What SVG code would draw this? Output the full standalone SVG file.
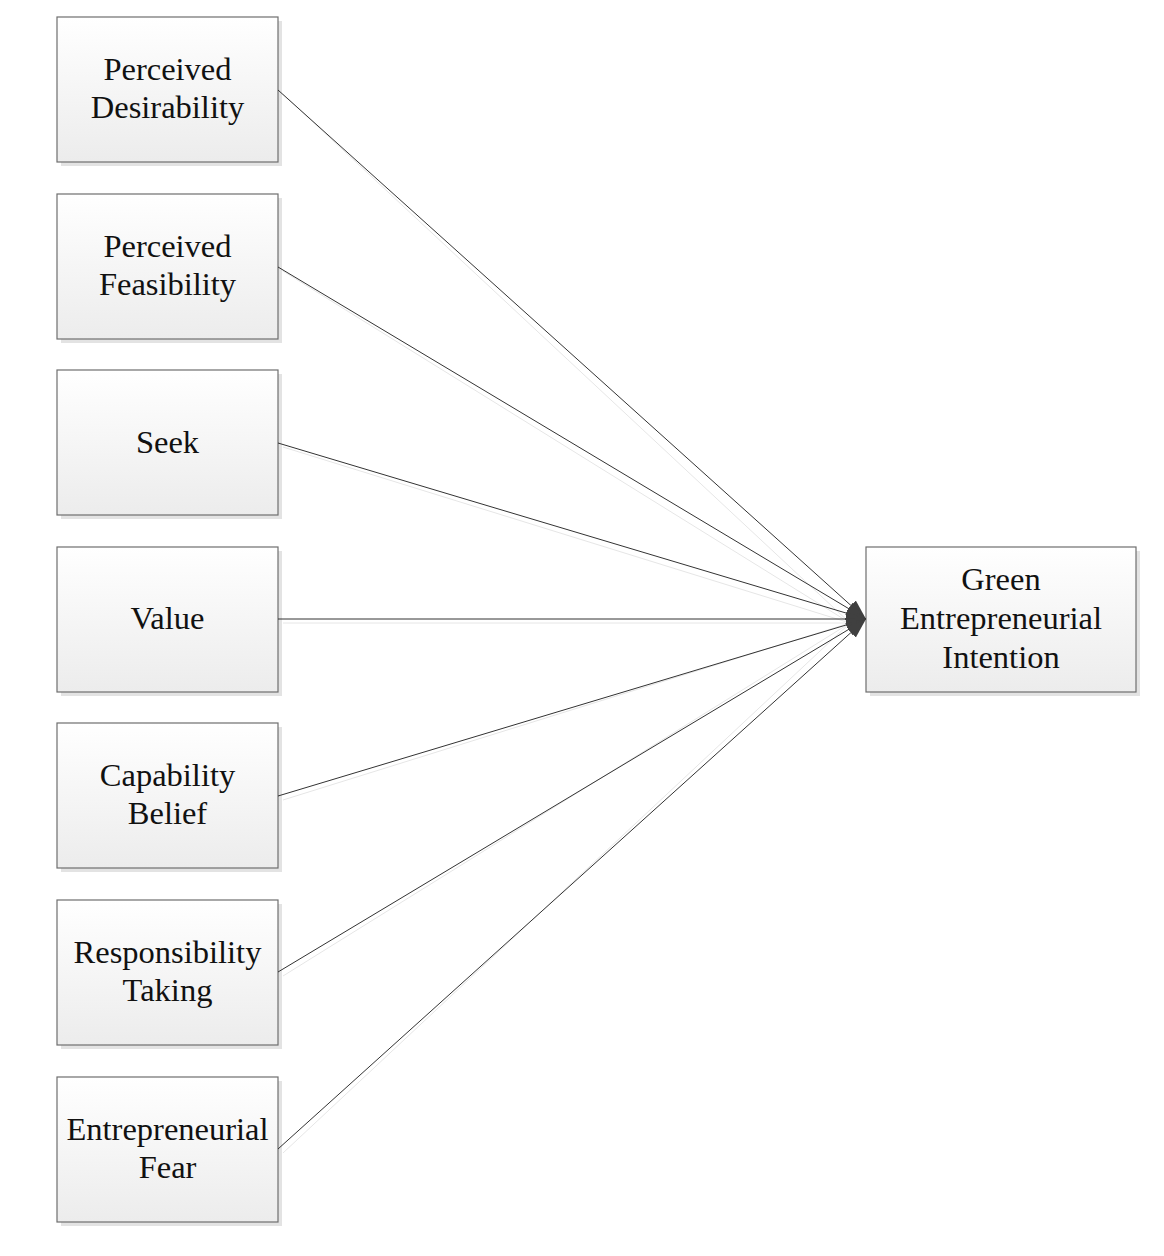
<svg xmlns="http://www.w3.org/2000/svg" width="1164" height="1256" viewBox="0 0 1164 1256">
<defs>
<linearGradient id="g" x1="0" y1="0" x2="0" y2="1">
<stop offset="0" stop-color="#ffffff"/>
<stop offset="1" stop-color="#ececec"/>
</linearGradient>
<marker id="arr" viewBox="0 0 20 16" refX="20" refY="8" markerWidth="20" markerHeight="16" markerUnits="userSpaceOnUse" orient="auto">
<path d="M0,1 L20,8 L0,15 Z" fill="#404040"/>
</marker>
</defs>
<style>
.box{fill:url(#g);stroke:#6e6e6e;stroke-width:1.2}
.sh{fill:#e3e3e3}
.t{font-size:32.5px;fill:#111;text-anchor:middle}
.c{stroke:#333;stroke-width:1;fill:none}
.cs{stroke:#e6e6e6;stroke-width:1;fill:none}
</style>
<g font-family="'Liberation Serif', 'Times New Roman', serif">
<g id="n1"><rect class="sh" x="61" y="21" width="221" height="145"/><rect class="box" x="57" y="17" width="221" height="145"/><text class="t" x="167.5" y="80">Perceived</text><text class="t" x="167.5" y="118">Desirability</text></g>
<g id="n2"><rect class="sh" x="61" y="198" width="221" height="145"/><rect class="box" x="57" y="194" width="221" height="145"/><text class="t" x="167.5" y="257">Perceived</text><text class="t" x="167.5" y="295">Feasibility</text></g>
<g id="n3"><rect class="sh" x="61" y="374" width="221" height="145"/><rect class="box" x="57" y="370" width="221" height="145"/><text class="t" x="167.5" y="453">Seek</text></g>
<g id="n4"><rect class="sh" x="61" y="551" width="221" height="145"/><rect class="box" x="57" y="547" width="221" height="145"/><text class="t" x="167.5" y="629">Value</text></g>
<g id="n5"><rect class="sh" x="61" y="727" width="221" height="145"/><rect class="box" x="57" y="723" width="221" height="145"/><text class="t" x="167.5" y="786">Capability</text><text class="t" x="167.5" y="824">Belief</text></g>
<g id="n6"><rect class="sh" x="61" y="904" width="221" height="145"/><rect class="box" x="57" y="900" width="221" height="145"/><text class="t" x="167.5" y="963">Responsibility</text><text class="t" x="167.5" y="1001">Taking</text></g>
<g id="n7"><rect class="sh" x="61" y="1081" width="221" height="145"/><rect class="box" x="57" y="1077" width="221" height="145"/><text class="t" x="167.5" y="1140">Entrepreneurial</text><text class="t" x="167.5" y="1178">Fear</text></g>
<g id="target"><rect class="sh" x="870" y="551" width="270" height="145"/><rect class="box" x="866" y="547" width="270" height="145"/><text class="t" x="1001" y="590">Green</text><text class="t" x="1001" y="629">Entrepreneurial</text><text class="t" x="1001" y="668">Intention</text></g>
</g>
<g id="connectors">
<g transform="translate(4,4)">
<line class="cs" x1="279" y1="90" x2="846" y2="619"/>
<line class="cs" x1="279" y1="267" x2="846" y2="619"/>
<line class="cs" x1="279" y1="443" x2="846" y2="619"/>
<line class="cs" x1="279" y1="619" x2="846" y2="619"/>
<line class="cs" x1="279" y1="796" x2="846" y2="619"/>
<line class="cs" x1="279" y1="972" x2="846" y2="619"/>
<line class="cs" x1="279" y1="1149" x2="846" y2="619"/>
</g>
<line class="c" x1="278" y1="90" x2="866" y2="619" marker-end="url(#arr)"/>
<line class="c" x1="278" y1="267" x2="866" y2="619" marker-end="url(#arr)"/>
<line class="c" x1="278" y1="443" x2="866" y2="619" marker-end="url(#arr)"/>
<line class="c" x1="278" y1="619" x2="866" y2="619" marker-end="url(#arr)"/>
<line class="c" x1="278" y1="796" x2="866" y2="619" marker-end="url(#arr)"/>
<line class="c" x1="278" y1="972" x2="866" y2="619" marker-end="url(#arr)"/>
<line class="c" x1="278" y1="1149" x2="866" y2="619" marker-end="url(#arr)"/>
</g>
</svg>
